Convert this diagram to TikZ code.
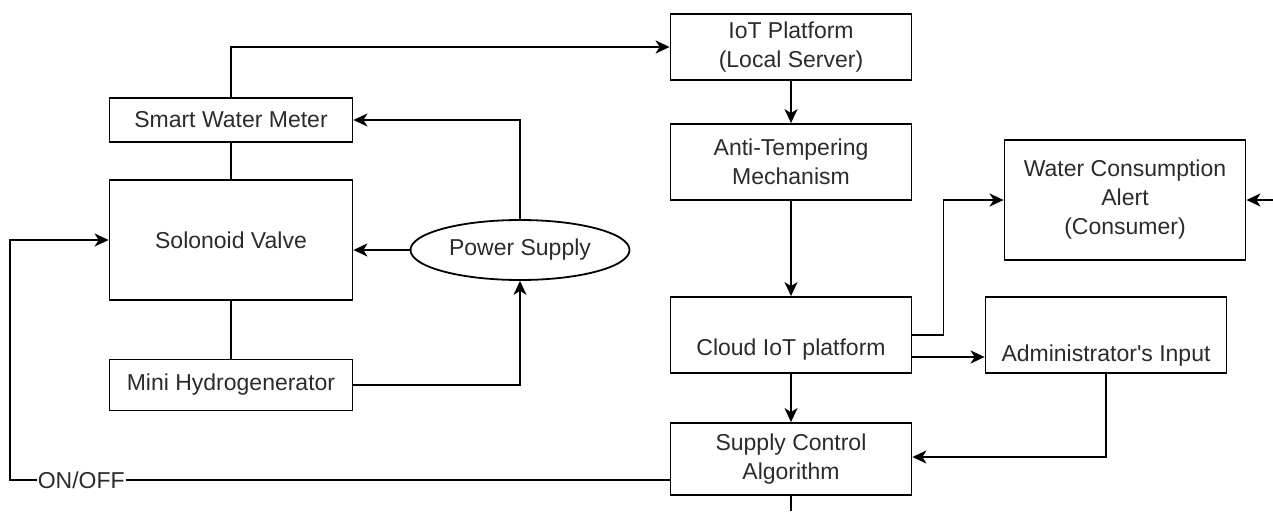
\documentclass[tikz,border=0pt]{standalone}
\usepackage{fontspec}
\setmainfont{Liberation Sans}
\newfontfamily\rawfont{Liberation Sans}
\usetikzlibrary{arrows.meta,positioning,calc,shapes.geometric}
\definecolor{ink}{HTML}{000000}
\definecolor{txt}{HTML}{2B2B2B}
\tikzset{
  base/.style={align=center, inner sep=2pt, font=\fontsize{23}{29}\selectfont, text=txt},
  box/.style={base, draw=ink, line width=1.8pt, minimum width=241pt},
  oval/.style={base, ellipse, draw=ink, line width=1.8pt, minimum width=219pt, minimum height=60pt},
  wire/.style={line width=1.8pt, draw=ink},
  arr/.style={wire, -{Stealth[length=14pt,width=13pt,inset=4pt]}},
  lab/.style={base, fill=white, inner sep=1pt},
}

\begin{document}
\begin{tikzpicture}[x=1pt, y=-1pt]
  \useasboundingbox (0,0) rectangle (1273,511);
  % left side: meter, valve, generator
  \node[box, minimum width=243pt, minimum height=44pt] (swm) at (231,120) {Smart Water Meter};
  \node[box, minimum width=243pt, minimum height=120pt] (valve) at (231,240) {Solonoid Valve};
  \node[box, minimum width=243pt, minimum height=51pt] (hydro) at (231,385) {Mini Hydrogenerator};
  \node[oval] (power) at (520,250) {Power Supply};

  % right side: platforms
  \node[box, minimum height=66pt] (iot) at (791,47) {IoT Platform\\(Local Server)};
  \node[box, minimum height=76pt] (anti) at (791,162) {Anti-Tempering\\Mechanism};
  \node[box, minimum height=76pt] (cloud) at (791,335) {};
  \node[base] (cloudtxt) at (791,350) {Cloud IoT platform};
  \node[box, minimum height=72pt] (sca) at (791,459) {Supply Control\\Algorithm};
  \node[box, minimum height=120pt] (wca) at (1125,200) {Water Consumption\\Alert\\(Consumer)};
  \node[box, minimum height=76pt] (admin) at (1106,335) {};
  \node[base] (admintxt) at (1106,356) {Administrator{\rawfont '}s Input};

  \coordinate (ext) at (1273,200);
  \coordinate (out) at (791,511);
  \coordinate (bend) at (10,480);

  % connectors
  \draw[wire] (swm.south) -- (valve.north);
  \draw[wire] (valve.south) -- (hydro.north);
  \draw[arr] (swm.north) |- (iot.west);
  \draw[arr] (power.north) |- (swm.east);
  \draw[arr] (power.west) -- (power.west -| valve.east);
  \draw[arr] (hydro.east) -| (power.south);
  \draw[arr] (iot.south) -- (anti.north);
  \draw[arr] (anti.south) -- (cloud.north);
  \draw[arr] (cloud.south) -- (sca.north);
  \draw[wire] (sca.south) -- (out);
  \draw[arr] (cloud.east) -- ++(31,0) |- (wca.west);
  \draw[arr] ($(cloud.east)+(0,22)$) -- ($(admin.west)+(0,22)$);
  \draw[arr] (admin.south) |- ($(sca.east)+(0,-2)$);
  \draw[arr] (ext) -- (wca.east);
  \draw[arr] ($(sca.west)+(0,21)$) -- node[lab, pos=0.892] (onoff) {ON/OFF} (bend) |- (valve.west);
\end{tikzpicture}
\end{document}
